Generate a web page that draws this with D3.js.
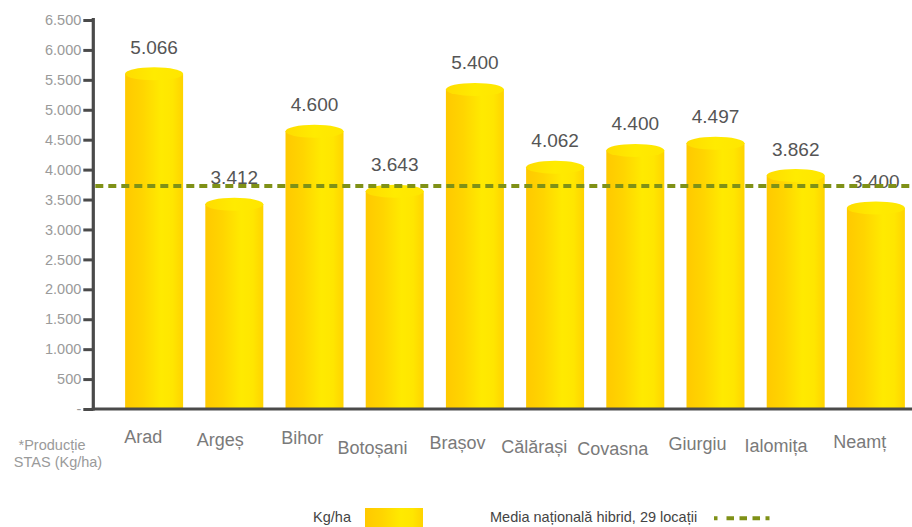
<!DOCTYPE html>
<html>
<head>
<meta charset="utf-8">
<script src="https://cdn.jsdelivr.net/npm/d3@7/dist/d3.min.js"></script>
<style>
  html, body { margin: 0; padding: 0; background: #fff; }
  svg { display: block; font-family: "Liberation Sans", Arial, Helvetica, sans-serif; }
</style>
</head>
<body>
<svg id="chart" width="912" height="527"></svg>
<script>
// ---- data ----
const categories = ["Arad", "Argeș", "Bihor", "Botoșani", "Brașov", "Călărași", "Covasna", "Giurgiu", "Ialomița", "Neamț"];
// bar heights as drawn in the picture (kg/ha)
const barValues = [5600, 3420, 4640, 3640, 5340, 4040, 4320, 4440, 3900, 3360];
// value labels printed above the bars
const valueLabels = ["5.066", "3.412", "4.600", "3.643", "5.400", "4.062", "4.400", "4.497", "3.862", "3.400"];
const yTicks = [0, 500, 1000, 1500, 2000, 2500, 3000, 3500, 4000, 4500, 5000, 5500, 6000, 6500];
const nationalAverage = 3725;
const axisTitleLines = ["*Producție", "STAS (Kg/ha)"];
const legendBarLabel = "Kg/ha";
const legendLineLabel = "Media națională hibrid, 29 locații";

// ---- setup ----
const svg = d3.select("#chart");
const W = 912, H = 527;
const axisX = 93.3;

const y = d3.scaleLinear().domain([0, 6500]).range([409, 20]);
const x = d3.scaleBand().domain(categories).range([94, 936]).paddingInner(0.277).paddingOuter(0.388);

const defs = svg.append("defs");
const gBody = defs.append("linearGradient").attr("id", "gBody").attr("x1", "0%").attr("x2", "100%").attr("y1", "0%").attr("y2", "0%");
[["0%", "#FFC900"], ["30%", "#FFD500"], ["62%", "#FFEA00"], ["82%", "#FFE600"], ["100%", "#FFD300"]]
  .forEach(([o, c]) => gBody.append("stop").attr("offset", o).attr("stop-color", c));
const gTop = defs.append("linearGradient").attr("id", "gTop").attr("x1", "0%").attr("x2", "100%").attr("y1", "0%").attr("y2", "0%");
[["0%", "#FFDC00"], ["50%", "#FFEB00"], ["100%", "#FFE600"]]
  .forEach(([o, c]) => gTop.append("stop").attr("offset", o).attr("stop-color", c));

// ---- bars (cylinders) ----
const data = categories.map((c, i) => ({ c, v: barValues[i], label: valueLabels[i] }));
const bw = x.bandwidth();
const ry = 6.5;

const bars = svg.append("g").selectAll("g").data(data).join("g");
bars.append("rect")
  .attr("x", d => x(d.c))
  .attr("y", d => y(d.v))
  .attr("width", bw)
  .attr("height", d => y(0) - y(d.v))
  .attr("fill", "url(#gBody)");
bars.append("ellipse")
  .attr("cx", d => x(d.c) + bw / 2)
  .attr("cy", d => y(d.v))
  .attr("rx", bw / 2)
  .attr("ry", ry)
  .attr("fill", "url(#gTop)");

// ---- y axis ----
const fmt = v => v === 0 ? "-" : d3.format(",")(v).replace(/,/g, ".");
const yAxis = svg.append("g")
  .attr("transform", `translate(${axisX},0)`)
  .call(d3.axisLeft(y).tickValues(yTicks).tickFormat(fmt).tickSize(10).tickSizeOuter(0).tickPadding(2));
yAxis.select(".domain").attr("stroke", "#4a4a4a").attr("stroke-width", 3.2)
  .attr("d", `M0,${y(6500) - 2}V${y(0) + 1.5}`);
yAxis.selectAll(".tick line").attr("stroke", "#4a4a4a").attr("stroke-width", 3);
yAxis.selectAll(".tick text").attr("fill", "#9a9a9a").style("font-size", "14.5px").attr("x", -12);

// ---- x axis ----
// Labels are set on the diagonal footprint of the original slanted labels
// (this renderer draws text upright), centred on where each slanted label sits.
const xAxis = svg.append("g")
  .attr("transform", `translate(0,${y(0)})`)
  .call(d3.axisBottom(x).tickSize(0).tickPadding(0));
xAxis.select(".domain").attr("stroke", "#4a4a4a").attr("stroke-width", 3.2)
  .attr("d", `M${axisX - 1.5},0H${W}`);
xAxis.selectAll(".tick text")
  .attr("text-anchor", "middle")
  .attr("fill", "#7a7a7a")
  .style("font-size", "18px")
  .attr("dy", null)
  .each(function () {
    const L = this.getComputedTextLength();
    const k = L * Math.SQRT1_2 / 2;
    d3.select(this).attr("x", 2.5 - k).attr("y", 14.5 + 6 + k);
  });

// ---- value labels ----
svg.append("g").selectAll("text").data(data).join("text")
  .attr("x", d => x(d.c) + bw / 2)
  .attr("y", d => y(d.v) - 20)
  .attr("text-anchor", "middle")
  .attr("fill", "#555")
  .style("font-size", "19px")
  .text(d => d.label);

// ---- national average line ----
svg.append("line")
  .attr("x1", axisX + 2).attr("x2", W)
  .attr("y1", y(nationalAverage)).attr("y2", y(nationalAverage))
  .attr("stroke", "#7f9117").attr("stroke-width", 4)
  .attr("stroke-dasharray", "8,5");

// ---- axis title ----
const title = svg.append("g");
title.selectAll("text").data(axisTitleLines).join("text")
  .attr("x", (d, i) => 52 + i * 6)
  .attr("y", (d, i) => 450 + i * 17)
  .attr("text-anchor", "middle")
  .attr("fill", "#9a9a9a")
  .style("font-size", "14.5px")
  .text(d => d);

// ---- legend ----
svg.append("text").attr("x", 351).attr("y", 522).attr("text-anchor", "end")
  .attr("fill", "#444").style("font-size", "14.5px").text(legendBarLabel);
svg.append("rect").attr("x", 365).attr("y", 508).attr("width", 58).attr("height", 25)
  .attr("fill", "url(#gBody)");
svg.append("text").attr("x", 490).attr("y", 522)
  .attr("fill", "#444").style("font-size", "14.5px").text(legendLineLabel);
svg.append("line").attr("x1", 714).attr("x2", 771).attr("y1", 518.3).attr("y2", 518.3)
  .attr("stroke", "#7f9117").attr("stroke-width", 4).attr("stroke-dasharray", "3.5,9,7.5,5.5,7.5,5.5,7.5,5.5,4,100");
</script>
</body>
</html>
